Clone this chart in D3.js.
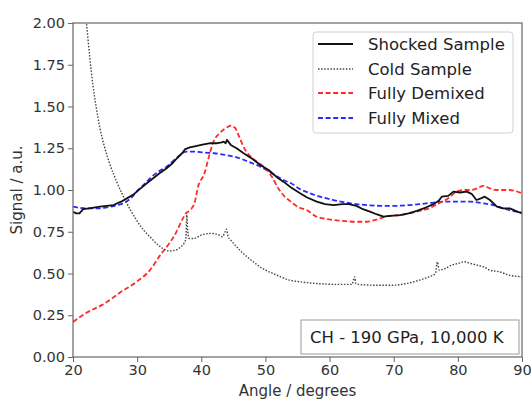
<!DOCTYPE html>
<html><head><meta charset="utf-8">
<script src="https://cdn.jsdelivr.net/npm/d3@7"></script>
<style>html,body{margin:0;padding:0;background:#fff;}svg{display:block;}</style>
</head><body>
<svg id="chart" width="531" height="399"></svg>
<script>
const xTicks = [20, 30, 40, 50, 60, 70, 80, 90];
const yTicks = [0, 0.25, 0.5, 0.75, 1.0, 1.25, 1.5, 1.75, 2.0];

const shockX = [20, 20.5, 21, 21.6, 22.5, 24.2, 26.3, 27.5, 28.4, 29.5, 30.4, 31.5, 32.5, 33.5, 34.6, 35.5, 36.2, 37, 37.5, 38.2, 38.8, 40, 41.4, 42.5, 43.2, 43.5, 43.8, 44.0, 44.3, 44.6, 45.5, 46.6, 48, 49.2, 50.5, 52, 52.8, 54, 55.4, 56.5, 58, 59.3, 60.6, 62, 63, 64.2, 65.2, 66.3, 67.3, 68.4, 69.5, 71, 72.3, 73.6, 75, 76.2, 77, 77.5, 78.5, 79.3, 80.3, 81.4, 82.2, 82.9, 83.6, 84.2, 85, 86.1, 87, 88.1, 89, 90];
const shockY = [0.87, 0.86, 0.86, 0.885, 0.89, 0.90, 0.91, 0.93, 0.95, 0.975, 1.005, 1.04, 1.07, 1.10, 1.13, 1.16, 1.19, 1.22, 1.245, 1.255, 1.26, 1.27, 1.28, 1.28, 1.285, 1.29, 1.28, 1.30, 1.285, 1.27, 1.25, 1.22, 1.185, 1.15, 1.12, 1.07, 1.05, 1.015, 0.98, 0.955, 0.93, 0.915, 0.91, 0.915, 0.915, 0.905, 0.885, 0.87, 0.855, 0.84, 0.845, 0.85, 0.86, 0.875, 0.895, 0.915, 0.935, 0.96, 0.965, 0.99, 0.985, 0.99, 0.975, 0.94, 0.95, 0.96, 0.94, 0.90, 0.89, 0.89, 0.875, 0.86];

const coldX = [20, 21, 22.1, 22.6, 23.1, 23.6, 24.2, 24.9, 25.7, 26.8, 28.4, 29.9, 31, 32, 33, 34, 35, 36, 36.8, 37.3, 37.6, 37.75, 37.9, 38.1, 38.8, 40, 41.4, 42.5, 43.3, 43.7, 43.9, 44.2, 44.6, 46, 48.1, 50, 51.2, 53.8, 55.4, 58, 61, 63.5, 63.9, 64.1, 64.5, 67, 70, 72, 74, 75.5, 76.5, 76.8, 77.1, 78, 79, 80, 81, 82, 83, 84, 85, 86.5, 88, 90];
const coldY = [2.75, 2.37, 2.0, 1.80, 1.63, 1.50, 1.37, 1.26, 1.16, 1.05, 0.92, 0.82, 0.76, 0.72, 0.68, 0.65, 0.635, 0.64, 0.66, 0.68, 0.71, 0.85, 0.75, 0.71, 0.71, 0.73, 0.74, 0.735, 0.72, 0.75, 0.765, 0.72, 0.70, 0.64, 0.57, 0.52, 0.50, 0.46, 0.45, 0.44, 0.435, 0.435, 0.48, 0.44, 0.435, 0.43, 0.43, 0.44, 0.46, 0.48, 0.50, 0.57, 0.52, 0.53, 0.55, 0.56, 0.57, 0.56, 0.55, 0.54, 0.52, 0.51, 0.49, 0.48];

const demixX = [20, 22.1, 24.7, 27.3, 29.9, 32, 33.6, 35, 36, 37, 37.6, 38.3, 39, 39.5, 40.5, 41.2, 41.8, 43, 44, 44.6, 45.3, 46, 47, 48, 49, 50, 51, 52, 53, 54, 55, 56.4, 58, 59, 60.6, 62, 64, 65.8, 67, 67.9, 69, 71, 72.5, 74, 75.5, 77, 78.5, 79.8, 81, 82, 83, 84, 85, 86, 88, 90];
const demixY = [0.21, 0.265, 0.315, 0.385, 0.45, 0.52, 0.61, 0.68, 0.74, 0.82, 0.86, 0.88, 0.93, 1.02, 1.10, 1.20, 1.28, 1.345, 1.375, 1.385, 1.37, 1.31, 1.23, 1.19, 1.16, 1.13, 1.08, 1.01, 0.96, 0.93, 0.90, 0.88, 0.84, 0.83, 0.82, 0.815, 0.81, 0.81, 0.82, 0.83, 0.845, 0.85, 0.86, 0.875, 0.89, 0.92, 0.95, 0.99, 1.00, 1.00, 1.01, 1.025, 1.01, 1.00, 1.00, 0.98];

const mixX = [20, 22, 24, 25.8, 27, 27.8, 29, 29.9, 31, 32, 33.3, 34.6, 35.5, 36.4, 37.7, 39, 40.3, 42, 43, 44.5, 46, 47.6, 49.2, 51, 52.8, 54, 55.4, 57, 58.5, 60.6, 62.5, 64.2, 65.8, 68, 70, 72.5, 74, 76.2, 78, 79.8, 82, 84, 85.5, 87.1, 88.5, 90];
const mixY = [0.90, 0.89, 0.89, 0.90, 0.91, 0.92, 0.95, 0.99, 1.03, 1.07, 1.11, 1.14, 1.17, 1.20, 1.23, 1.23, 1.225, 1.22, 1.215, 1.205, 1.19, 1.165, 1.14, 1.10, 1.06, 1.04, 1.005, 0.98, 0.96, 0.94, 0.925, 0.915, 0.91, 0.905, 0.905, 0.91, 0.915, 0.925, 0.93, 0.93, 0.93, 0.92, 0.91, 0.89, 0.875, 0.865];

const seriesNames = ["Shocked Sample", "Cold Sample", "Fully Demixed", "Fully Mixed"];
const annotation = "CH - 190 GPa, 10,000 K";

const svg = d3.select("#chart");
const L = 73, R = 522, T = 23, B = 357;
const x = d3.scaleLinear().domain([20, 90]).range([L, R]);
const y = d3.scaleLinear().domain([0, 2]).range([B, T]);
const font = "DejaVu Sans, sans-serif";

svg.append("defs").append("clipPath").attr("id", "clip")
  .append("rect").attr("x", L).attr("y", T).attr("width", R - L).attr("height", B - T);

const styles = [
  {xs: shockX, ys: shockY, color: "#111", dash: null, w: 1.8, curve: d3.curveLinear},
  {xs: coldX, ys: coldY, color: "#444", dash: "1.5,1.6", w: 1.4, curve: d3.curveMonotoneX},
  {xs: demixX, ys: demixY, color: "#ff2a2a", dash: "5,2.6", w: 1.8, curve: d3.curveMonotoneX},
  {xs: mixX, ys: mixY, color: "#2a2aff", dash: "5,2.6", w: 1.8, curve: d3.curveMonotoneX}
];

const g = svg.append("g").attr("clip-path", "url(#clip)");
[3, 2, 1, 0].forEach(i => {
  const s = styles[i];
  const pts = s.xs.map((v, k) => [v, s.ys[k]]);
  const line = d3.line().x(d => x(d[0])).y(d => y(d[1])).curve(s.curve);
  g.append("path").attr("d", line(pts)).attr("fill", "none")
    .attr("stroke", s.color).attr("stroke-width", s.w)
    .attr("stroke-dasharray", s.dash).attr("stroke-linejoin", "round");
});

const xAxis = svg.append("g").attr("transform", `translate(0,${B})`)
  .call(d3.axisBottom(x).tickValues(xTicks).tickFormat(d3.format("d")).tickSize(5).tickPadding(3));
const yAxis = svg.append("g").attr("transform", `translate(${L},0)`)
  .call(d3.axisLeft(y).tickValues(yTicks).tickFormat(d3.format(".2f")).tickSize(5).tickPadding(3));
[xAxis, yAxis].forEach(a => {
  a.select(".domain").remove();
  a.selectAll("line").attr("stroke", "#666").attr("stroke-width", 1);
  a.selectAll("text").attr("font-family", font).attr("font-size", "14.5px").attr("fill", "#333");
});
svg.append("rect").attr("x", L).attr("y", T).attr("width", R - L).attr("height", B - T)
  .attr("fill", "none").attr("stroke", "#666").attr("stroke-width", 1.2);

svg.append("text").attr("x", (L + R) / 2).attr("y", 396).attr("text-anchor", "middle")
  .attr("font-family", font).attr("font-size", "15px").attr("fill", "#333").text("Angle / degrees");
svg.append("text").attr("transform", `translate(22,${(T + B) / 2}) rotate(-90)`)
  .attr("text-anchor", "middle").attr("font-family", font).attr("font-size", "15px").attr("fill", "#333")
  .text("Signal / a.u.");

const lg = svg.append("g");
lg.append("rect").attr("x", 313).attr("y", 32).attr("width", 200).attr("height", 101).attr("rx", 3)
  .attr("fill", "#fff").attr("fill-opacity", 0.85).attr("stroke", "#d0d0d0");
const rowY = [44, 69, 93, 118];
seriesNames.forEach((n, i) => {
  const s = styles[i];
  lg.append("line").attr("x1", 318).attr("x2", 353).attr("y1", rowY[i]).attr("y2", rowY[i])
    .attr("stroke", s.color).attr("stroke-width", s.w).attr("stroke-dasharray", s.dash);
  lg.append("text").attr("x", 368).attr("y", rowY[i]).attr("dy", "0.36em")
    .attr("font-family", font).attr("font-size", "16.5px").attr("fill", "#222").text(n);
});

svg.append("rect").attr("x", 301).attr("y", 320).attr("width", 218).attr("height", 34)
  .attr("fill", "#fff").attr("stroke", "#999");
svg.append("text").attr("x", 310).attr("y", 337).attr("dy", "0.36em")
  .attr("font-family", font).attr("font-size", "16.5px").attr("fill", "#222").text(annotation);
</script>
</body></html>
